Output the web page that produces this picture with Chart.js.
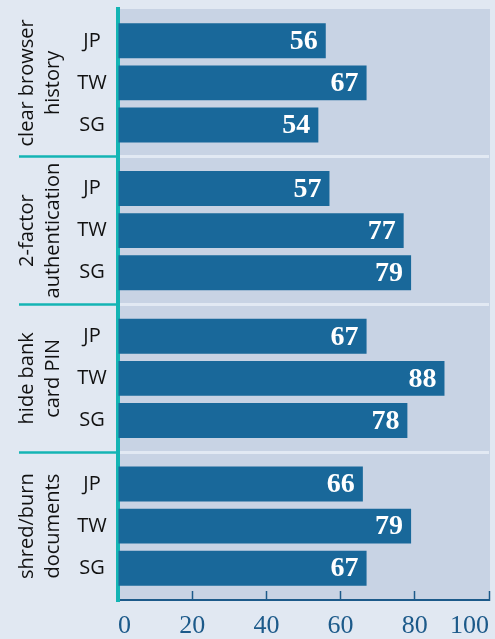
<!DOCTYPE html>
<html>
<head>
<meta charset="utf-8">
<script src="https://cdn.jsdelivr.net/npm/chart.js@4/dist/chart.umd.min.js"></script>
<style>
  html, body { margin: 0; padding: 0; background: #e1e8f2; }
  #wrap { width: 495px; height: 639px; position: relative; }
</style>
</head>
<body>
<div id="wrap"><canvas id="chart"></canvas></div>
<script>
// Data
var groups = [
    ['clear browser', 'history'],
    ['2-factor', 'authentication'],
    ['hide bank', 'card PIN'],
    ['shred/burn', 'documents']
];
var countries = ['JP', 'TW', 'SG'];
var valuesJP = [56, 57, 67, 66];
var valuesTW = [67, 77, 88, 79];
var valuesSG = [54, 79, 78, 67];
var xTicks = [0, 20, 40, 60, 80, 100];

var barColor = '#19689a';
var teal = '#14b4b4';
var plotColor = '#c8d3e4';
var sepColor = '#e2e9f3';
var axisBlue = '#1c5a8a';

// plot background + labels drawn next to the bars
var labelPlugin = {
    id: 'labelPlugin',
    beforeDraw: function (chart) {
        var a = chart.chartArea;
        var ctx = chart.ctx;
        ctx.save();
        ctx.fillStyle = plotColor;
        ctx.fillRect(a.left, a.top, a.right - a.left + 1, a.bottom - a.top);
        ctx.restore();
    },
    afterDatasetsDraw: function (chart) {
        var ctx = chart.ctx;
        var yScale = chart.scales.y;
        ctx.save();

        // values inside bars
        ctx.font = 'bold 28px "Liberation Serif", "DejaVu Serif", serif';
        ctx.fillStyle = '#ffffff';
        ctx.textAlign = 'right';
        ctx.textBaseline = 'middle';
        chart.data.datasets.forEach(function (ds, di) {
            chart.getDatasetMeta(di).data.forEach(function (bar, i) {
                ctx.fillText(String(ds.data[i]), bar.x - 8, bar.y + 1);
            });
        });

        // country labels
        ctx.font = '20px "Open Sans", "Noto Sans", sans-serif';
        ctx.fillStyle = '#111111';
        ctx.textAlign = 'center';
        chart.data.datasets.forEach(function (ds, di) {
            chart.getDatasetMeta(di).data.forEach(function (bar) {
                ctx.fillText(ds.label, 92, bar.y);
            });
        });

        // group labels, rotated
        groups.forEach(function (lines, i) {
            var cy = yScale.getPixelForValue(i);
            lines.forEach(function (line, li) {
                ctx.save();
                ctx.translate(27 + li * 26, cy);
                ctx.rotate(-Math.PI / 2);
                ctx.fillText(line, 0, 0);
                ctx.restore();
            });
        });
        ctx.restore();
    }
};

function sepVisible(c) {
    return c.index > 0 && c.index < groups.length;
}

function makeDataset(label, data) {
    return {
        label: label,
        data: data,
        backgroundColor: barColor,
        borderWidth: 0,
        categoryPercentage: 0.853,
        barPercentage: 0.833
    };
}

var chart = new Chart(document.getElementById('chart'), {
    type: 'bar',
    data: {
        labels: groups,
        datasets: [
            makeDataset(countries[0], valuesJP),
            makeDataset(countries[1], valuesTW),
            makeDataset(countries[2], valuesSG)
        ]
    },
    options: {
        indexAxis: 'y',
        responsive: true,
        maintainAspectRatio: false,
        animation: false,
        layout: { padding: { left: 19, top: 9, right: 6, bottom: 0 } },
        plugins: {
            legend: { display: false },
            tooltip: { enabled: false },
            colors: { enabled: false }
        },
        scales: {
            x: {
                min: 0,
                max: 100,
                afterBuildTicks: function (scale) {
                    scale.ticks = xTicks.map(function (v) { return { value: v }; });
                },
                afterFit: function (scale) {
                    scale.height = 39;
                    scale.paddingLeft = 0;
                    scale.paddingRight = 0;
                },
                border: { display: true, color: axisBlue, width: 2 },
                grid: {
                    drawOnChartArea: false,
                    drawTicks: true,
                    tickLength: -9,
                    tickColor: axisBlue,
                    tickWidth: 1.5
                },
                ticks: {
                    maxRotation: 0,
                    minRotation: 0,
                    align: 'inner',
                    padding: 20,
                    color: axisBlue,
                    font: { family: '"Liberation Serif", "DejaVu Serif", serif', size: 26 }
                }
            },
            y: {
                border: { display: true, color: teal, width: 4 },
                grid: {
                    offset: true,
                    drawTicks: true,
                    tickLength: 99,
                    lineWidth: 3,
                    tickWidth: 2.5,
                    color: function (c) { return sepVisible(c) ? sepColor : 'rgba(0,0,0,0)'; },
                    tickColor: function (c) { return sepVisible(c) ? teal : 'rgba(0,0,0,0)'; }
                },
                ticks: { display: false }
            }
        }
    },
    plugins: [labelPlugin]
});
</script>
</body>
</html>
